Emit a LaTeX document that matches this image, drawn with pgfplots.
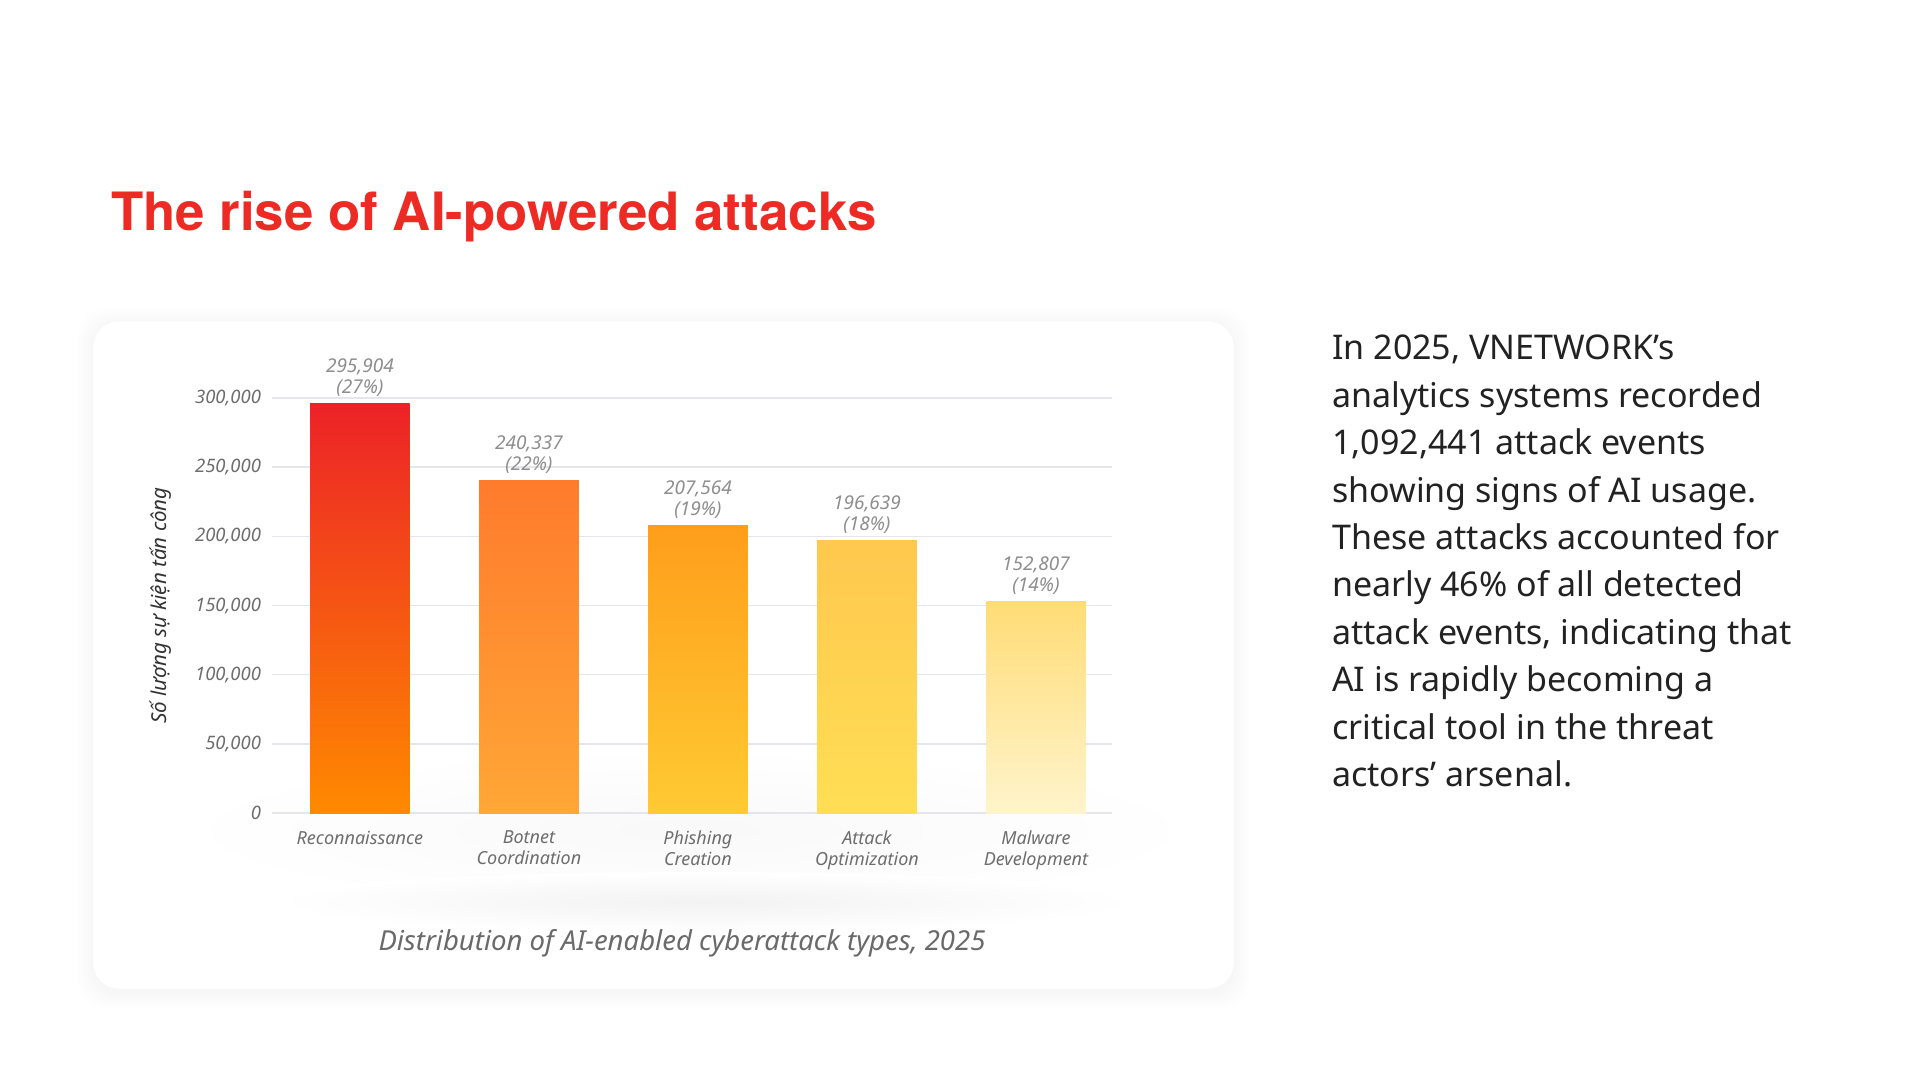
\documentclass[border=0pt]{standalone}
\usepackage{pgfplots}
\pgfplotsset{compat=1.18}
\usepackage{fontspec}
\setmainfont{Noto Sans}
\newfontfamily\titlefont{TeX Gyre Heros}
\definecolor{titlered}{HTML}{EE2A24}
\definecolor{gridgray}{HTML}{E4E6EB}
\definecolor{tickgray}{HTML}{6E6E6E}
\definecolor{labgray}{HTML}{8E8E8E}
\definecolor{ylabgray}{HTML}{333333}
\definecolor{capgray}{HTML}{6A6A6A}
\definecolor{bodytext}{HTML}{222222}
\definecolor{cAt}{HTML}{EC2227}\definecolor{cAb}{HTML}{FF8A00}
\definecolor{cBt}{HTML}{FF7B2C}\definecolor{cBb}{HTML}{FFA736}
\definecolor{cCt}{HTML}{FF9E1B}\definecolor{cCb}{HTML}{FFCA33}
\definecolor{cDt}{HTML}{FFC84E}\definecolor{cDb}{HTML}{FFDE55}
\definecolor{cEt}{HTML}{FFDC76}\definecolor{cEb}{HTML}{FFF4CC}
\begin{document}
\begin{tikzpicture}[x=1pt,y=1pt]
\path[use as bounding box, fill=white] (0,0) rectangle (1920,1080);
% card shadow
\foreach \i in {1,...,8} {
  \fill[black, opacity=0.005, rounded corners=30pt] (93-2*\i, 91-2*\i-3) rectangle (1234+2*\i, 759+2*\i-3);
}
\fill[white, rounded corners=26pt] (93,91) rectangle (1234,759);
\draw[black!3, rounded corners=26pt] (93,91) rectangle (1234,759);
% soft shadow under the plot
\shade[inner color=black!2.5, outer color=white] (690,250) ellipse [x radius=520, y radius=80];
\shade[inner color=black!5, outer color=white] (705,178) ellipse [x radius=430, y radius=30];
% title
\node[anchor=base west, inner sep=0, text=titlered] at (111,849)
  {\titlefont\bfseries\fontsize{52.8}{60}\selectfont The rise of AI-powered attacks};
% paragraph
\foreach \t [count=\k from 0] in {In 2025{,} VNETWORK’s, analytics systems recorded, 1{,}092{,}441 attack events, showing signs of AI usage., These attacks accounted for, nearly 46\% of all detected, {attack events, indicating that}, AI is rapidly becoming a, critical tool in the threat, actors’ arsenal.} {
  \node[anchor=base west, inner sep=0, text=bodytext, font=\fontsize{34}{40}\selectfont] at (1332, 720-47.4*\k) {\t};
}
\begin{axis}[
  at={(272pt,267pt)}, anchor=south west, scale only axis,
  width=840pt, height=415pt,
  xmin=-0.52, xmax=4.45, ymin=0, ymax=300000,
  scaled y ticks=false,
  axis line style={draw=none},
  major tick length=0pt,
  ymajorgrids, grid style={draw=gridgray, line width=1.6pt},
  ytick={0,50000,100000,150000,200000,250000,300000},
  yticklabels={0,{50,000},{100,000},{150,000},{200,000},{250,000},{300,000}},
  yticklabel style={font=\fontsize{18.5}{21}\selectfont\itshape, text=tickgray, xshift=-7.5pt},
  xtick={0,1,2,3,4},
  xticklabels={Reconnaissance,{Botnet\\Coordination},{Phishing\\Creation},{Attack\\Optimization},{Malware\\Development}},
  xticklabel style={font=\fontsize{18}{21}\selectfont\itshape, text=tickgray, align=center, anchor=north, yshift=-14.5pt},
  ylabel={Số lượng sự kiện tấn công},
  every axis y label/.style={at={(axis description cs:-0.132,0.5)}, rotate=90, anchor=center, font=\fontsize{20.5}{24}\selectfont\bfseries\itshape, text=ylabgray},
  clip=false,
  every node near coord/.append style={align=center, font=\fontsize{19}{21}\selectfont\itshape, text=labgray, anchor=south, inner sep=3pt, yshift=4pt, shade=false, fill=none},
]
\addplot[ybar, bar width=0.59, bar shift=0pt, draw=none, top color=cAt, bottom color=cAb,
  nodes near coords={295,904\\(27\%)}] coordinates {(0,295904)};
\addplot[ybar, bar width=0.59, bar shift=0pt, draw=none, top color=cBt, bottom color=cBb,
  nodes near coords={240,337\\(22\%)}] coordinates {(1,240337)};
\addplot[ybar, bar width=0.59, bar shift=0pt, draw=none, top color=cCt, bottom color=cCb,
  nodes near coords={207,564\\(19\%)}] coordinates {(2,207564)};
\addplot[ybar, bar width=0.59, bar shift=0pt, draw=none, top color=cDt, bottom color=cDb,
  nodes near coords={196,639\\(18\%)}] coordinates {(3,196639)};
\addplot[ybar, bar width=0.59, bar shift=0pt, draw=none, top color=cEt, bottom color=cEb,
  nodes near coords={152,807\\(14\%)}] coordinates {(4,152807)};
\end{axis}
% caption
\node[anchor=center, inner sep=0, text=capgray, font=\fontsize{27.5}{32}\selectfont\itshape] at (682,137)
  {Distribution of AI-enabled cyberattack types, 2025};
\end{tikzpicture}
\end{document}
